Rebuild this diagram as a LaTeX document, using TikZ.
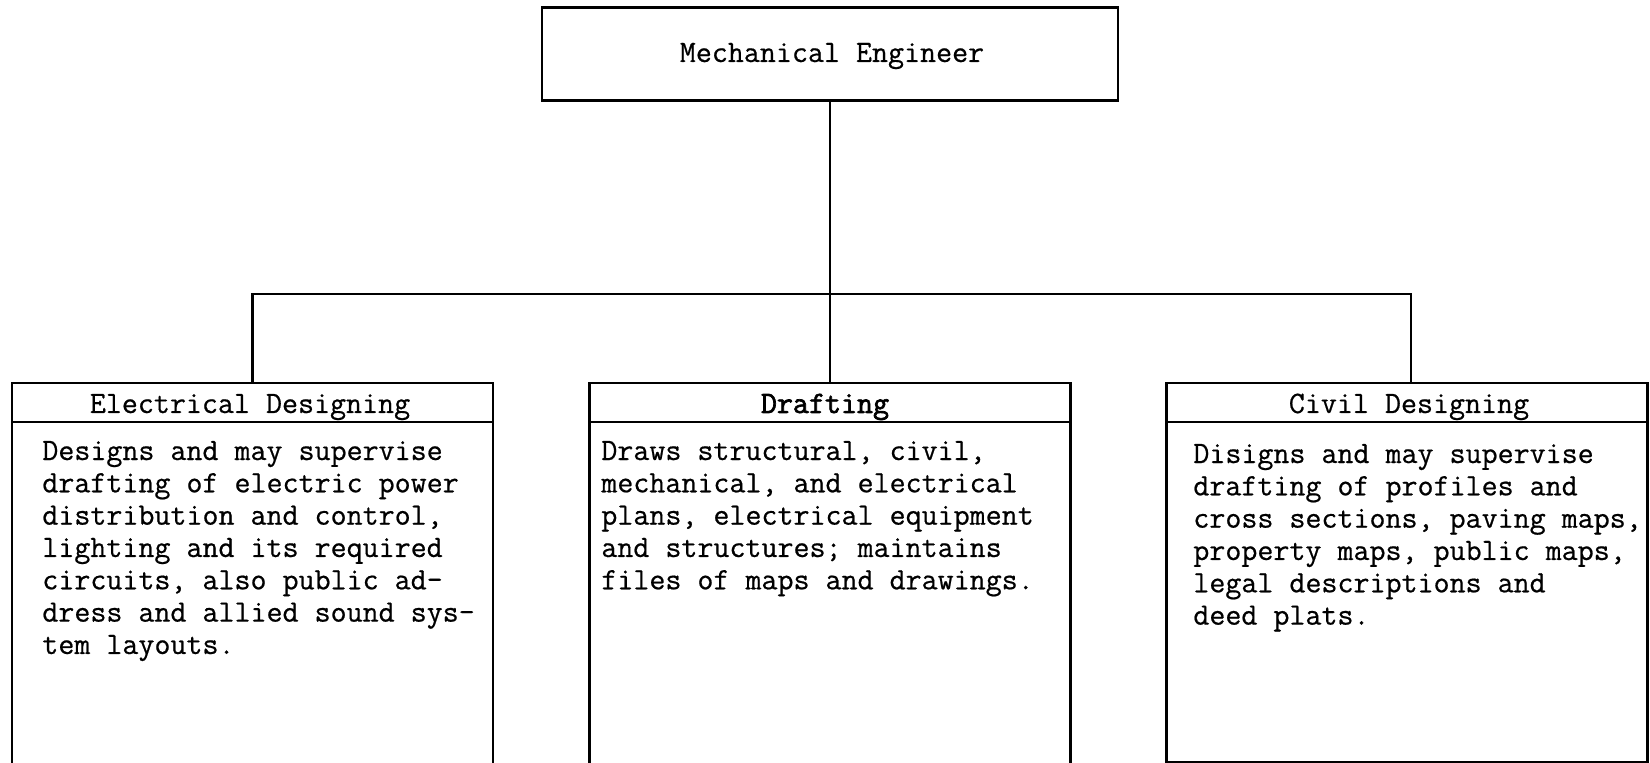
\documentclass[tikz,border=0pt]{standalone}
\usepackage{fontspec}
\setmonofont{Latin Modern Mono}[UprightFeatures={FakeBold=0.6}]
\newfontfamily\headbold{Latin Modern Mono}[UprightFeatures={FakeBold=2.2}]
\begin{document}
\begin{tikzpicture}[x=0.02cm,y=-0.02cm,
  every node/.style={font=\ttfamily\fontsize{17.7pt}{18.4pt}\selectfont},
  wire/.style={line width=1.4pt},
  topbox/.style={draw,line width=1.4pt,minimum width=11.52cm,minimum height=1.86cm,inner sep=0pt},
  headbox/.style={draw,line width=1.4pt,minimum width=9.62cm,minimum height=0.78cm,inner sep=0pt},
  bodybox/.style={draw,line width=1.4pt,minimum width=9.62cm,inner sep=0pt},
  bodytext/.style={anchor=base west,inner sep=0pt}
]
\useasboundingbox (0,0) rectangle (1650,763);

% head of the chart
\node[topbox] (me) at (830,54) {};
\node[anchor=base,inner sep=0pt] (metxt) at (832,62) {Mechanical Engineer};

% the three sections: header band and body
\node[headbox] (el) at (252.5,402.5) {};
\node[headbox] (dr) at (830,402.5) {};
\node[headbox] (cv) at (1407,402.5) {};
\node[bodybox,minimum height=6.88cm] (elb) at (252.5,594) {};
\node[bodybox,minimum height=6.88cm] (drb) at (830,594) {};
\node[bodybox,minimum height=6.80cm] (cvb) at (1407,592) {};

\node[anchor=base,inner sep=0pt] (eltxt) at (250,413) {Electrical Designing};
\node[anchor=base,inner sep=0pt,font=\headbold\fontsize{17.7pt}{18.4pt}\selectfont] (drtxt) at (825,413) {Drafting};
\node[anchor=base,inner sep=0pt] (cvtxt) at (1409,413) {Civil Designing};

\node[bodytext] (elbody) at (42,460) {\parbox[t]{9cm}{\baselineskip=18.4pt
Designs and may supervise\\
drafting of electric power\\
distribution and control,\\
lighting and its required\\
circuits, also public ad-\\
dress and allied sound sys-\\
tem layouts.}};

\node[bodytext] (drbody) at (601,460) {\parbox[t]{9cm}{\baselineskip=18.4pt
Draws structural, civil,\\
mechanical, and electrical\\
plans, electrical equipment\\
and structures; maintains\\
files of maps and drawings.}};

\node[bodytext] (cvbody) at (1193,463) {\parbox[t]{9cm}{\baselineskip=18.4pt
Disigns and may supervise\\
drafting of profiles and\\
cross sections, paving maps,\\
property maps, public maps,\\
legal descriptions and\\
deed plats.}};

% connectors
\coordinate (bus) at (830,294);
\draw[wire] (me.south) -- (dr.north);
\draw[wire] (el.north) |- (bus) -| ([xshift=0.08cm]cv.north);
\end{tikzpicture}
\end{document}
